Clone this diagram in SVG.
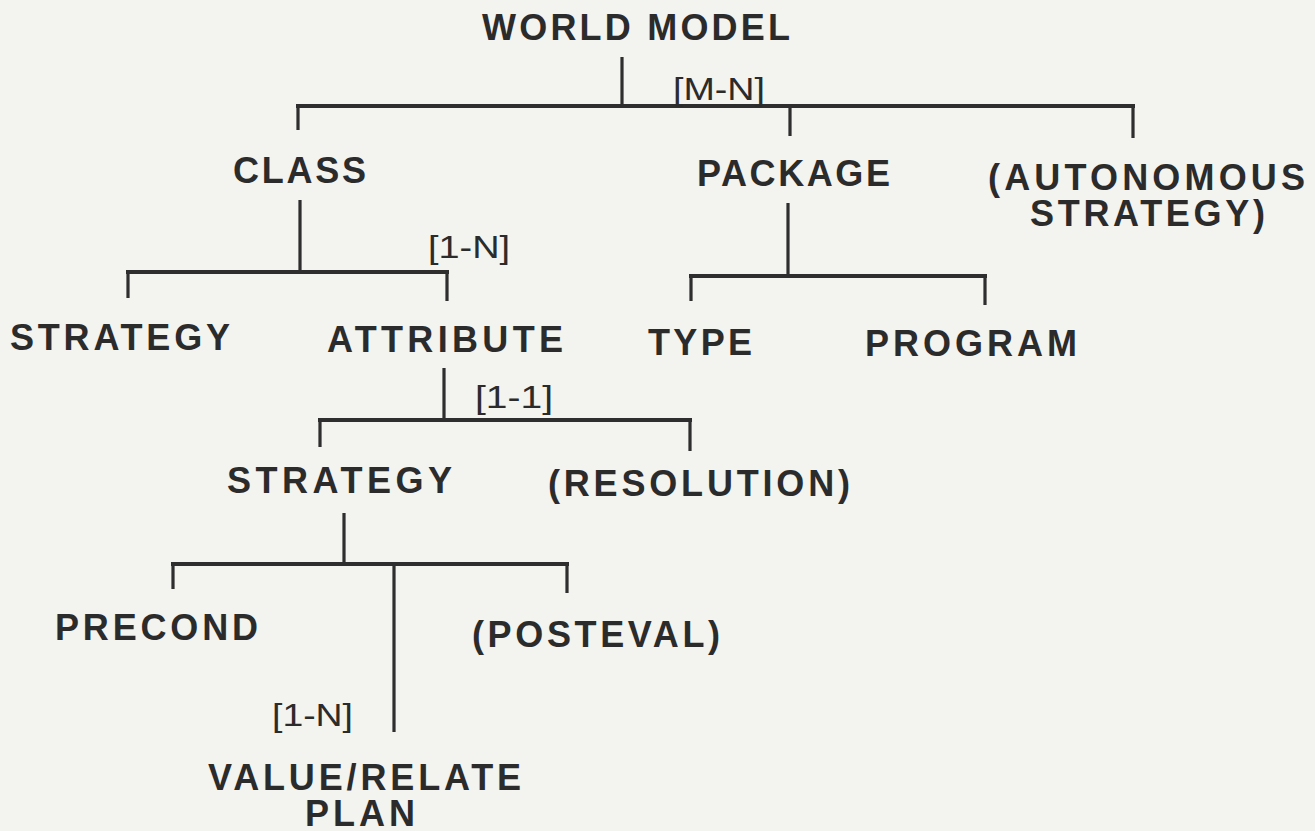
<svg xmlns="http://www.w3.org/2000/svg" width="1315" height="831" viewBox="0 0 1315 831">
<style>
.n{font-family:"Liberation Sans",Arial,sans-serif;font-weight:bold;font-size:36px;fill:#2b2b2b}
.l{font-family:"Liberation Sans",Arial,sans-serif;font-size:32px;fill:#2b2b2b}
.c path{fill:none;stroke:#2e2e2e;stroke-linecap:butt}
.v{stroke-width:3.2}
.h{stroke-width:4.2}
</style>
<rect width="1315" height="831" fill="#f3f3f0"/>
<g class="c" id="connectors">
<path class="v" d="M622 57V106"/>
<path class="h" d="M296 106H1135"/>
<path class="v" d="M298 106V130M790 106V136M1133 106V138"/>
<path class="v" d="M300 200V272"/>
<path class="h" d="M126 272H449"/>
<path class="v" d="M128 272V298M447 272V301"/>
<path class="v" d="M788 203V276"/>
<path class="h" d="M689 276H987"/>
<path class="v" d="M691 276V301M985 276V305"/>
<path class="v" d="M444 368V420"/>
<path class="h" d="M318 420H692"/>
<path class="v" d="M320 420V447M690 420V451"/>
<path class="v" d="M344 513V564"/>
<path class="h" d="M171 564H569"/>
<path class="v" d="M173 564V589M567 564V593"/>
<path class="v" d="M394 564V732"/>
<text class="l" x="673" y="100" textLength="92" lengthAdjust="spacingAndGlyphs">[M-N]</text>
<text class="l" x="428" y="258" textLength="82" lengthAdjust="spacingAndGlyphs">[1-N]</text>
<text class="l" x="475" y="408" textLength="78" lengthAdjust="spacingAndGlyphs">[1-1]</text>
<text class="l" x="272" y="726" textLength="81" lengthAdjust="spacingAndGlyphs">[1-N]</text>
</g>
<g id="world-model"><text class="n" x="482" y="40" textLength="308" lengthAdjust="spacing">WORLD MODEL</text></g>
<g id="class"><text class="n" x="233" y="183" textLength="133" lengthAdjust="spacing">CLASS</text></g>
<g id="package"><text class="n" x="697" y="186" textLength="193" lengthAdjust="spacing">PACKAGE</text></g>
<g id="autonomous-strategy">
<text class="n" x="988" y="190" textLength="317" lengthAdjust="spacing">(AUTONOMOUS</text>
<text class="n" x="1030" y="226" textLength="235" lengthAdjust="spacing">STRATEGY)</text>
</g>
<g id="strategy-class"><text class="n" x="10" y="350" textLength="220" lengthAdjust="spacing">STRATEGY</text></g>
<g id="attribute"><text class="n" x="327" y="352" textLength="236" lengthAdjust="spacing">ATTRIBUTE</text></g>
<g id="type"><text class="n" x="648" y="355" textLength="104" lengthAdjust="spacing">TYPE</text></g>
<g id="program"><text class="n" x="865" y="356" textLength="212" lengthAdjust="spacing">PROGRAM</text></g>
<g id="strategy-attr"><text class="n" x="227" y="493" textLength="225" lengthAdjust="spacing">STRATEGY</text></g>
<g id="resolution"><text class="n" x="548" y="496" textLength="302" lengthAdjust="spacing">(RESOLUTION)</text></g>
<g id="precond"><text class="n" x="55" y="640" textLength="203" lengthAdjust="spacing">PRECOND</text></g>
<g id="posteval"><text class="n" x="472" y="647" textLength="248" lengthAdjust="spacing">(POSTEVAL)</text></g>
<g id="value-relate-plan">
<text class="n" x="208" y="790" textLength="313" lengthAdjust="spacing">VALUE/RELATE</text>
<text class="n" x="305" y="826" textLength="110" lengthAdjust="spacing">PLAN</text>
</g>
</svg>
